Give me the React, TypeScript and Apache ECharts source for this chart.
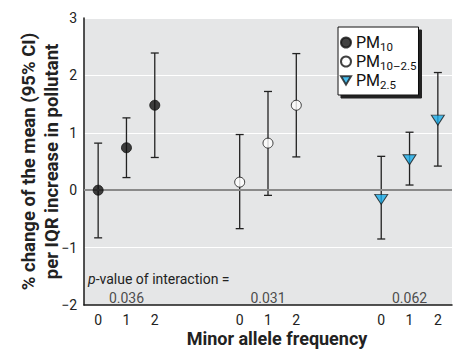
import React, { useEffect, useRef } from "react";
import * as echarts from "echarts";

// ---- data ----
const alleleFreq = [0, 1, 2];
const groupNames = ["PM10", "PM10–2.5", "PM2.5"];
const pm10Mean = [0, 0.74, 1.48];
const pm10Low = [-0.83, 0.22, 0.57];
const pm10High = [0.82, 1.26, 2.39];
const pm1025Mean = [0.14, 0.82, 1.48];
const pm1025Low = [-0.67, -0.09, 0.58];
const pm1025High = [0.97, 1.72, 2.38];
const pm25Mean = [-0.16, 0.53, 1.22];
const pm25Low = [-0.85, 0.09, 0.42];
const pm25High = [0.59, 1.01, 2.05];
const pValues = ["0.036", "0.031", "0.062"];
const pValueLabel = "p-value of interaction =";

const groupGap = 5; // x-units between group starts (layout)
const FONT = "Roboto, 'Liberation Sans', sans-serif";

const xOf = (g: number, i: number) => g * groupGap + alleleFreq[i];

const means = [pm10Mean, pm1025Mean, pm25Mean];
const lows = [pm10Low, pm1025Low, pm25Low];
const highs = [pm10High, pm1025High, pm25High];

const tickValues: number[] = [];
groupNames.forEach((_, g) => alleleFreq.forEach((_, i) => tickValues.push(xOf(g, i))));

export default function App() {
  const ref = useRef<HTMLDivElement>(null);
  useEffect(() => {
    document.body.style.margin = "0";
    if (!ref.current) return;
    const chart = echarts.init(ref.current, undefined, { renderer: "svg" });

    const errData: number[][] = [];
    groupNames.forEach((_, g) =>
      alleleFreq.forEach((_, i) => errData.push([xOf(g, i), lows[g][i], highs[g][i]]))
    );

    const pointSeries = (g: number, symbol: string, size: any, color: string, border: string) => ({
      type: "scatter",
      name: groupNames[g],
      symbol,
      symbolSize: size,
      z: 5,
      itemStyle: { color, borderColor: border, borderWidth: 1 },
      data: alleleFreq.map((_, i) => [xOf(g, i), means[g][i]]),
    });

    const legendText = (name: string) => {
      if (name === "PM10") return "{m|PM}{s|10}";
      if (name === "PM10–2.5") return "{m|PM}{s|10–2.5}";
      return "{m|PM}{s|2.5}";
    };

    chart.setOption({
      animation: false,
      textStyle: { fontFamily: FONT },
      grid: {
        left: 84,
        right: 9,
        top: 18,
        bottom: 47,
        show: true,
        backgroundColor: "#e5e6e7",
        borderWidth: 0,
        containLabel: false,
        outerBoundsMode: "none",
      },
      xAxis: {
        type: "value",
        min: -0.5,
        max: groupGap * 2 + 2.5,
        splitLine: { show: false },
        axisLine: { show: true, onZero: false, lineStyle: { color: "#1a1a1a", width: 1.5 } },
        axisTick: { show: false },
        axisLabel: {
          customValues: tickValues,
          formatter: (v: number) => String(((v % groupGap) + groupGap) % groupGap),
          fontSize: 14,
          color: "#222",
          margin: 8,
          fontFamily: FONT,
        },
        name: "Minor allele frequency",
        nameLocation: "middle",
        nameGap: 24,
        nameMoveOverlap: false,
        nameTextStyle: {
          fontSize: 18,
          fontWeight: "bold",
          color: "#222",
          fontFamily: FONT,
          padding: [0, 0, 0, 18],
        },
      },
      yAxis: {
        type: "value",
        min: -2,
        max: 3,
        interval: 1,
        splitLine: { show: true, lineStyle: { color: "#ffffff", width: 1.2 } },
        axisLine: { show: true, onZero: false, lineStyle: { color: "#1a1a1a", width: 1.5 } },
        axisTick: { show: false },
        axisLabel: {
          fontSize: 14,
          color: "#222",
          margin: 7,
          fontFamily: FONT,
          formatter: (v: number) => String(v).replace("-", "−"),
        },
        name: "% change of the mean (95% CI)\nper IQR increase in pollutant",
        nameLocation: "middle",
        nameRotate: 90,
        nameGap: 21,
        nameMoveOverlap: false,
        nameTextStyle: {
          fontSize: 18.5,
          fontWeight: "bold",
          color: "#222",
          lineHeight: 23,
          fontFamily: FONT,
        },
      },
      legend: {
        data: groupNames,
        orient: "vertical",
        left: 338,
        top: 27,
        itemWidth: 10,
        itemHeight: 10,
        itemGap: 0,
        padding: [7, 2, 4, 2],
        backgroundColor: "#ffffff",
        borderColor: "#111",
        borderWidth: 1,
        borderRadius: 0,
        shadowColor: "#222",
        shadowBlur: 0,
        shadowOffsetX: 3,
        shadowOffsetY: 3,
        selectedMode: false,
        formatter: legendText,
        textStyle: {
          fontFamily: FONT,
          color: "#111",
          rich: {
            m: { fontSize: 16, lineHeight: 17, verticalAlign: "top", fontFamily: FONT, color: "#111" },
            s: {
              fontSize: 11.5,
              lineHeight: 10,
              verticalAlign: "top",
              padding: [7, 0, 0, 0],
              fontFamily: FONT,
              color: "#111",
            },
          },
        },
      },
      series: [
        {
          type: "custom",
          name: "ci",
          z: 3,
          renderItem: (params: any, api: any) => {
            const x = api.value(0);
            const top = api.coord([x, api.value(2)]);
            const bot = api.coord([x, api.value(1)]);
            const cap = 4;
            const st = { stroke: "#222", lineWidth: 1.3 };
            return {
              type: "group",
              children: [
                { type: "line", shape: { x1: top[0], y1: top[1], x2: bot[0], y2: bot[1] }, style: st },
                { type: "line", shape: { x1: top[0] - cap, y1: top[1], x2: top[0] + cap, y2: top[1] }, style: st },
                { type: "line", shape: { x1: bot[0] - cap, y1: bot[1], x2: bot[0] + cap, y2: bot[1] }, style: st },
              ],
            };
          },
          data: errData,
          markLine: {
            silent: true,
            symbol: "none",
            label: { show: false },
            lineStyle: { color: "#8a8a8a", width: 2, type: "solid" },
            data: [{ yAxis: 0 }],
          },
        },
        pointSeries(0, "circle", 10, "#111111", "#111111"),
        pointSeries(1, "circle", 10, "#ffffff", "#111111"),
        pointSeries(2, "path://M0,0 L12,0 L6,10 Z", [13, 10], "#19acea", "#1a1a1a"),
        {
          type: "scatter",
          name: "pvalues",
          symbolSize: 0,
          silent: true,
          data: pValues.map((p, g) => ({ value: [xOf(g, 1), -1.87], label: { formatter: p } })),
          label: {
            show: true,
            position: "inside",
            fontSize: 14,
            color: "#222",
            fontFamily: FONT,
          },
        },
      ],
      graphic: [
        {
          type: "text",
          left: 88,
          top: 272,
          style: {
            text: "{i|p}{n|" + pValueLabel.slice(1) + "}",
            rich: {
              i: { fontStyle: "italic", fontSize: 14, fontFamily: FONT, fill: "#222" },
              n: { fontSize: 14, fontFamily: FONT, fill: "#222" },
            },
          },
        },
      ],
    });
    return () => chart.dispose();
  }, []);
  return <div ref={ref} style={{ width: 461, height: 352 }} />;
}
